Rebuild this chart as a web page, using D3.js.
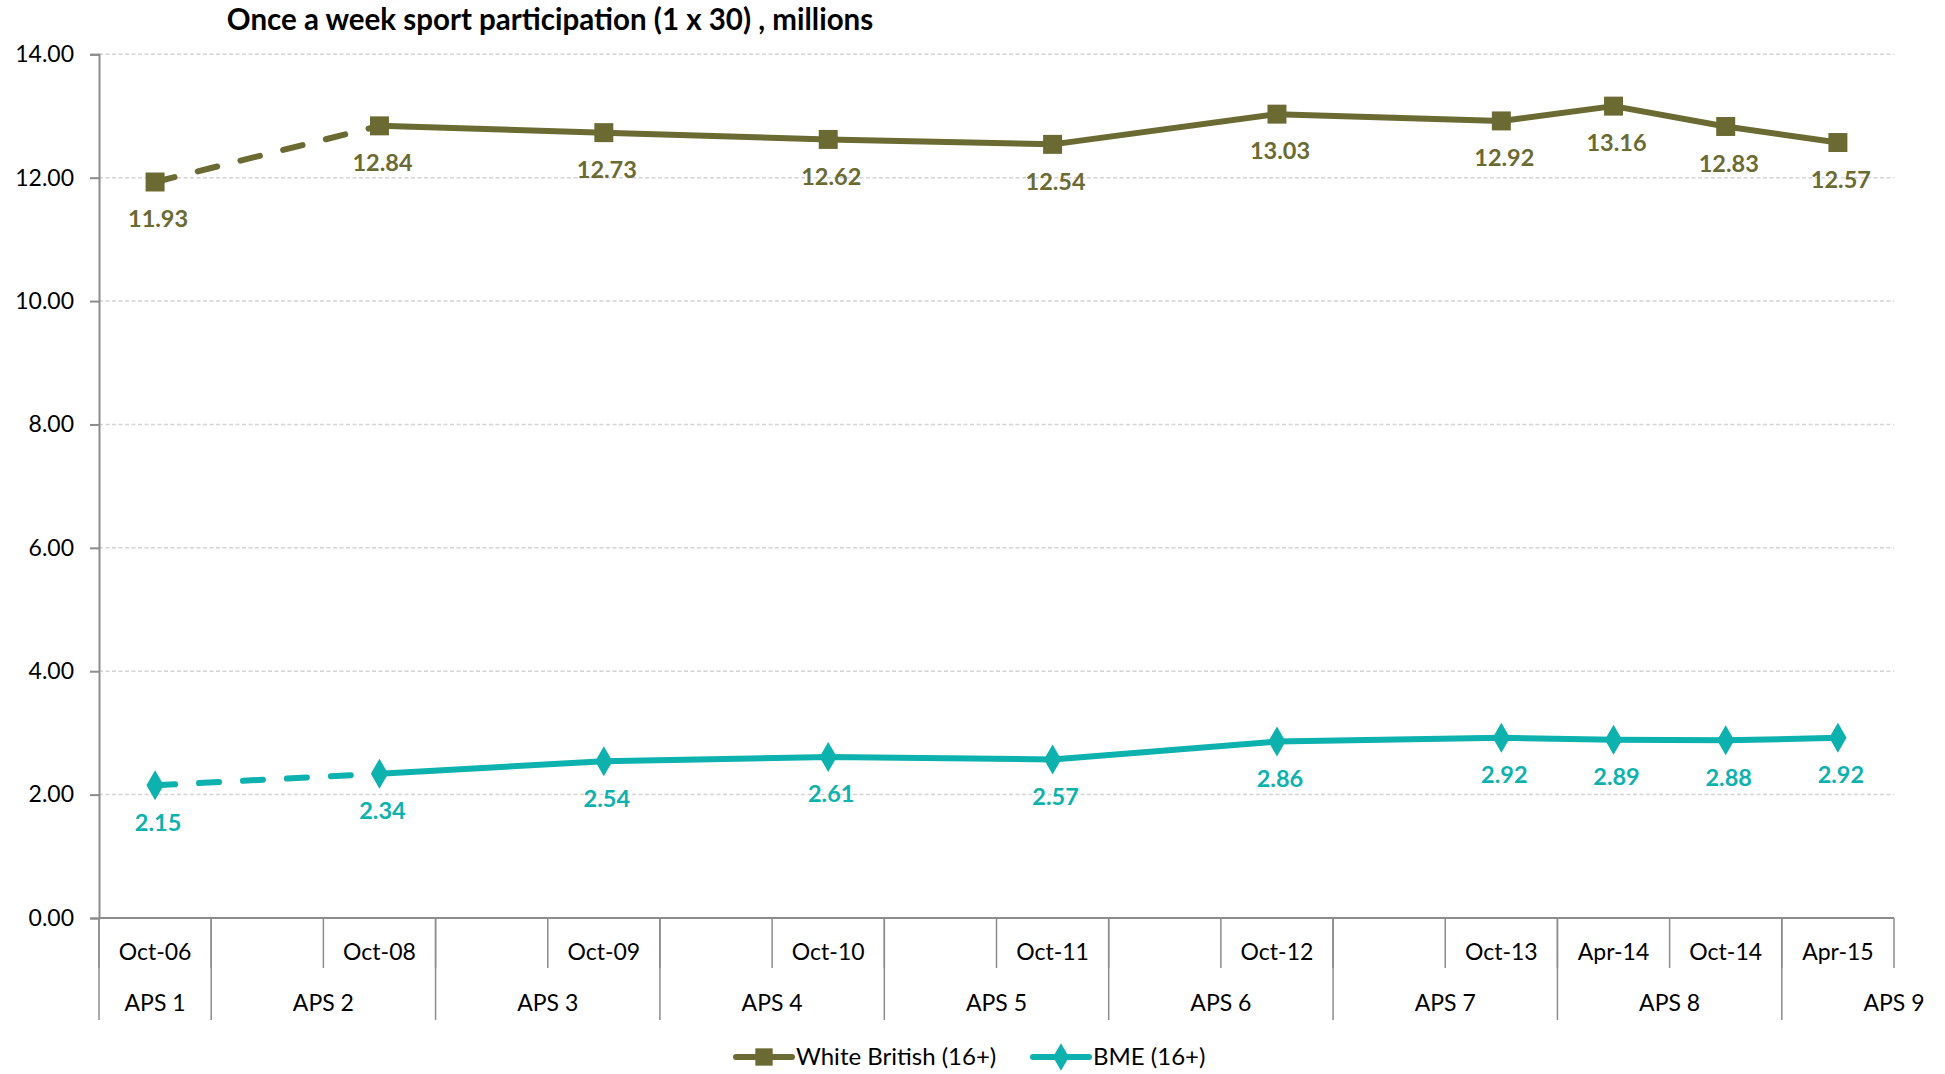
<!DOCTYPE html>
<html><head><meta charset="utf-8">
<script src="https://cdn.jsdelivr.net/npm/d3@7/dist/d3.min.js"></script>
<style>
html,body{margin:0;padding:0;background:#fff;}
svg{display:block;font-family:Lato, "Open Sans", sans-serif;}
</style></head>
<body>
<svg id="chart" width="1945" height="1074"></svg>
<script>
// ---- data ----
const title = "Once a week sport participation (1 x 30) , millions";
const slotLabels = ["Oct-06","","Oct-08","","Oct-09","","Oct-10","","Oct-11","","Oct-12","","Oct-13","Apr-14","Oct-14","Apr-15"];
const groupLabels = ["APS 1","APS 2","APS 3","APS 4","APS 5","APS 6","APS 7","APS 8","APS 9"];
const groupSpans = [1,2,2,2,2,2,2,2,2];
const pointSlots = [0,2,4,6,8,10,12,13,14,15];
const whiteBritish = [11.93,12.84,12.73,12.62,12.54,13.03,12.92,13.16,12.83,12.57];
const bme = [2.15,2.34,2.54,2.61,2.57,2.86,2.92,2.89,2.88,2.92];
const yTicks = [0,2,4,6,8,10,12,14];
const seriesNames = ["White British (16+)","BME (16+)"];

// ---- layout ----
const svg = d3.select("#chart");
const X0 = 99, X1 = 1894, Y0 = 918, Y14 = 54.3;
const olive = "#6a6a32", teal = "#0db1ad", axisCol = "#8c8c8c";

const x = d3.scaleBand().domain(d3.range(slotLabels.length)).range([X0, X1]).padding(0);
const y = d3.scaleLinear().domain([0, 14]).range([Y0, Y14]);
const w = x.bandwidth();

// gridlines
svg.append("g").selectAll("line").data(yTicks.filter(d => d > 0)).join("line")
  .attr("x1", X0).attr("x2", X1).attr("y1", d => y(d)).attr("y2", d => y(d))
  .attr("stroke", "#d4d4d4").attr("stroke-width", 1.5).attr("stroke-dasharray", "4,2.5");

// y axis
const yAxis = d3.axisLeft(y).tickValues(yTicks).tickFormat(d3.format(".2f")).tickSize(9).tickPadding(16);
const gy = svg.append("g").attr("transform", `translate(${X0},0)`).call(yAxis);
gy.select(".domain").attr("stroke", axisCol).attr("stroke-width", 2);
gy.selectAll(".tick line").attr("stroke", axisCol).attr("stroke-width", 2);
gy.selectAll(".tick text").attr("font-size", 23).attr("fill", "#000").attr("font-family", "Lato");

// x axis baseline
svg.append("line").attr("x1", X0).attr("x2", X1).attr("y1", Y0).attr("y2", Y0)
  .attr("stroke", axisCol).attr("stroke-width", 2);

// slot boundary ticks (upper row)
const bounds = d3.range(slotLabels.length + 1).map(i => X0 + i * w);
svg.append("g").selectAll("line").data(bounds).join("line")
  .attr("x1", d => d).attr("x2", d => d).attr("y1", Y0).attr("y2", 968)
  .attr("stroke", axisCol).attr("stroke-width", 1.5);

// group boundaries (full height)
const groupStarts = [];
let acc = 0;
groupSpans.forEach(s => { groupStarts.push(acc); acc += s; });
svg.append("g").selectAll("line").data(groupStarts).join("line")
  .attr("x1", d => X0 + d * w).attr("x2", d => X0 + d * w).attr("y1", Y0).attr("y2", 1020)
  .attr("stroke", axisCol).attr("stroke-width", 1.5);

// slot labels
svg.append("g").selectAll("text").data(slotLabels).join("text")
  .attr("x", (d, i) => x(i) + w / 2).attr("y", 952).attr("dy", "0.35em")
  .attr("text-anchor", "middle").attr("font-size", 23).attr("fill", "#000").text(d => d);

// group labels
svg.append("g").selectAll("text").data(groupLabels).join("text")
  .attr("x", (d, i) => X0 + (groupStarts[i] + groupSpans[i] / 2) * w).attr("y", 1003).attr("dy", "0.35em")
  .attr("text-anchor", "middle").attr("font-size", 23).attr("fill", "#000").text(d => d);

// title
svg.append("text").attr("x", 550).attr("y", 30).attr("text-anchor", "middle")
  .attr("font-size", 29.5).attr("font-weight", "bold").attr("fill", "#000").text(title);

// series
function drawSeries(vals, color, marker) {
  const pts = vals.map((v, i) => [x(pointSlots[i]) + w / 2, y(v), v]);
  const line = d3.line();
  const g = svg.append("g");
  g.append("path").attr("d", line(pts.slice(0, 2))).attr("fill", "none")
    .attr("stroke", color).attr("stroke-width", 6).attr("stroke-linecap", "round")
    .attr("stroke-dasharray", "20,24");
  g.append("path").attr("d", line(pts.slice(1))).attr("fill", "none")
    .attr("stroke", color).attr("stroke-width", 6).attr("stroke-linejoin", "round");
  const sym = marker === "square" ? d3.symbol().type(d3.symbolSquare).size(360)
                                  : d3.symbol().type(d3.symbolDiamond).size(260);
  g.selectAll("path.m").data(pts).join("path").attr("class", "m")
    .attr("transform", d => `translate(${d[0]},${d[1]})`).attr("d", sym()).attr("fill", color);
  g.selectAll("text").data(pts).join("text")
    .attr("x", d => d[0] + 3).attr("y", d => d[1] + 37).attr("dy", "0.35em")
    .attr("text-anchor", "middle").attr("font-size", 23.5).attr("font-weight", "bold")
    .attr("fill", color).text(d => d3.format(".2f")(d[2]));
}
drawSeries(whiteBritish, olive, "square");
drawSeries(bme, teal, "diamond");

// legend
const legend = [
  {name: seriesNames[0], color: olive, marker: "square", x: 736},
  {name: seriesNames[1], color: teal, marker: "diamond", x: 1033}
];
const lg = svg.append("g");
legend.forEach(l => {
  const ly = 1057;
  lg.append("line").attr("x1", l.x).attr("x2", l.x + 56).attr("y1", ly).attr("y2", ly)
    .attr("stroke", l.color).attr("stroke-width", 6).attr("stroke-linecap", "round");
  const sym = l.marker === "square" ? d3.symbol().type(d3.symbolSquare).size(300)
                                    : d3.symbol().type(d3.symbolDiamond).size(220);
  lg.append("path").attr("transform", `translate(${l.x + 28},${ly})`).attr("d", sym()).attr("fill", l.color);
  lg.append("text").attr("x", l.x + 60).attr("y", ly).attr("dy", "0.35em")
    .attr("font-size", 24).attr("fill", "#000").text(l.name);
});
</script>
</body></html>
